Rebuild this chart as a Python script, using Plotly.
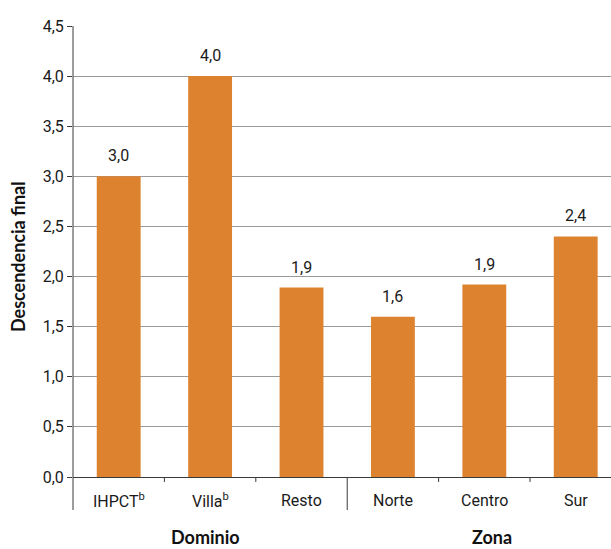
import plotly.graph_objects as go

categories = ["IHPCT<sup>b</sup>", "Villa<sup>b</sup>", "Resto", "Norte", "Centro", "Sur"]
values = [3.0, 4.0, 1.89, 1.6, 1.92, 2.4]
value_labels = ["3,0", "4,0", "1,9", "1,6", "1,9", "2,4"]
groups = ["Dominio", "Zona"]
y_ticks = [0, 0.5, 1, 1.5, 2, 2.5, 3, 3.5, 4, 4.5]
y_tick_labels = ["0,0", "0,5", "1,0", "1,5", "2,0", "2,5", "3,0", "3,5", "4,0", "4,5"]

BAR = "#DD8330"
AX = "#3a3a3a"
GRID = "#9a9a9a"
FONT = "Roboto"

x = list(range(len(categories)))

fig = go.Figure()
fig.add_trace(go.Bar(
    x=x, y=values, width=0.48, marker=dict(color=BAR, line=dict(width=0)),
    hoverinfo="skip",
))

annotations = []
# value labels
for i, (v, t) in enumerate(zip(values, value_labels)):
    annotations.append(dict(
        x=i, xref="x", y=v, yref="y", text=t, showarrow=False,
        xanchor="center", yanchor="bottom", yshift=9,
        font=dict(family=FONT, size=16, color="#1a1a1a"),
    ))
# category labels
for i, c in enumerate(categories):
    annotations.append(dict(
        x=i, xref="x", y=-0.053, yref="paper", text=c, showarrow=False,
        xanchor="center", yanchor="middle",
        font=dict(family=FONT, size=16, color="#1a1a1a"),
    ))
# group labels
annotations.append(dict(x=0.955, xref="x", y=-0.133, yref="paper", text="<b>" + groups[0] + "</b>",
                        showarrow=False, xanchor="center", yanchor="middle",
                        font=dict(family="Lato", size=18, color="#111")))
annotations.append(dict(x=4.08, xref="x", y=-0.133, yref="paper", text="<b>" + groups[1] + "</b>",
                        showarrow=False, xanchor="center", yanchor="middle",
                        font=dict(family="Lato", size=18, color="#111")))
# y title
annotations.append(dict(x=-0.102, xref="paper", y=0.488, yref="paper",
                        text="<b>Descendencia final</b>", textangle=-90, showarrow=False,
                        xanchor="center", yanchor="middle",
                        font=dict(family="Lato", size=18, color="#111")))

shapes = []
# left axis line extended below
shapes.append(dict(type="line", xref="paper", yref="paper", x0=0, x1=0, y0=-0.0732, y1=1,
                   line=dict(color=AX, width=1)))
# separator between groups
shapes.append(dict(type="line", xref="x", yref="paper", x0=2.5, x1=2.5, y0=-0.0732, y1=0,
                   line=dict(color=AX, width=1)))
# small ticks
for b in [0.5, 1.5, 3.5, 4.5]:
    shapes.append(dict(type="line", xref="x", yref="paper", x0=b, x1=b, y0=-0.011, y1=0,
                       line=dict(color=AX, width=1)))

fig.update_layout(
    width=611, height=549,
    margin=dict(l=73, r=0, t=26, b=72),
    paper_bgcolor="white", plot_bgcolor="white",
    showlegend=False,
    xaxis=dict(range=[-0.5, 5.386], showticklabels=False, showgrid=False, zeroline=False,
               showline=False, ticks="", fixedrange=True),
    yaxis=dict(range=[0, 4.5], tickvals=y_ticks, ticktext=y_tick_labels,
               showgrid=True, gridcolor=GRID, gridwidth=1,
               zeroline=True, zerolinecolor=AX, zerolinewidth=1,
               showline=False, ticks="outside", ticklen=5, tickcolor=AX,
               tickfont=dict(family=FONT, size=16, color="#1a1a1a"), fixedrange=True),
    annotations=annotations, shapes=shapes,
)

fig.write_html("out.html", config={"displayModeBar": False},
               post_script="document.body.style.margin='0';document.body.style.overflow='hidden';")
